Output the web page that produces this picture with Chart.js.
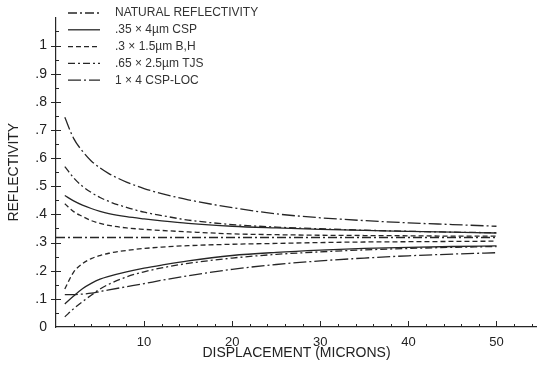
<!DOCTYPE html>
<html><head><meta charset="utf-8">
<script src="https://cdn.jsdelivr.net/npm/chart.js@4/dist/chart.umd.min.js"></script>
<style>html,body{margin:0;padding:0;background:#fff}canvas{display:block}</style>
</head><body>
<canvas id="c" width="537" height="368"></canvas>
<script>
const xs = [1,2,3,4,5,6,8,10,12,15,20,25,30,35,40,45,50];
const natX = [0,50];
const natY = [0.318,0.318];
const cspUpper = [0.467,0.448,0.433,0.421,0.411,0.403,0.392,0.384,0.377,0.368,0.358,0.352,0.347,0.343,0.340,0.337,0.334];
const cspLower = [0.082,0.110,0.136,0.155,0.170,0.180,0.196,0.209,0.220,0.235,0.254,0.265,0.273,0.279,0.283,0.286,0.288];
const bhUpper  = [0.438,0.410,0.393,0.378,0.368,0.361,0.352,0.347,0.343,0.338,0.331,0.328,0.326,0.325,0.324,0.323,0.323];
const bhLower  = [0.135,0.195,0.225,0.243,0.254,0.262,0.272,0.279,0.284,0.289,0.294,0.297,0.300,0.302,0.303,0.304,0.305];
const tjsUpper = [0.570,0.530,0.500,0.478,0.460,0.446,0.425,0.408,0.396,0.380,0.364,0.355,0.349,0.344,0.340,0.337,0.335];
const tjsLower = [0.036,0.065,0.090,0.113,0.135,0.152,0.178,0.196,0.210,0.226,0.245,0.258,0.267,0.274,0.279,0.283,0.286];
const locUpper = [0.745,0.670,0.625,0.590,0.565,0.545,0.515,0.492,0.474,0.452,0.424,0.402,0.388,0.378,0.370,0.364,0.358];
const locLower = [0.115,0.115,0.117,0.120,0.126,0.132,0.143,0.154,0.166,0.182,0.205,0.222,0.235,0.245,0.253,0.259,0.264];
const seriesNames = ["NATURAL REFLECTIVITY", ".35 \u00d7 4\u00b5m CSP", ".3 \u00d7 1.5\u00b5m B,H", ".65 \u00d7 2.5\u00b5m TJS", "1 \u00d7 4 CSP-LOC"];
const yTickValues = [0,0.1,0.2,0.3,0.4,0.5,0.6,0.7,0.8,0.9,1];
const yTickLabels = ["0",".1",".2",".3",".4",".5",".6",".7",".8",".9","1"];
const xTickValues = [10,20,30,40,50];
const xTickLabels = ["10","20","30","40","50"];

const INK = '#262626';
const FONT = "'Liberation Sans', Arial, Helvetica, sans-serif";
const dashes = [[9,3,2,3],[],[5,3],[7,3,2,3],[13,3,2,3]];

function pts(xa, ya){ return xa.map((x,i)=>({x:x,y:ya[i]})); }
function ds(label, xa, ya, dashIdx, legend){
  return {label:label, data:pts(xa,ya), borderColor:INK, borderWidth:1.3,
    borderDash:dashes[dashIdx], pointRadius:0, fill:false, tension:0.4,
    cubicInterpolationMode:'monotone', showInLegend:legend};
}
const datasets = [
  ds(seriesNames[0], natX, natY, 0, true),
  ds(seriesNames[1], xs, cspUpper, 1, true),
  ds(seriesNames[1], xs, cspLower, 1, false),
  ds(seriesNames[2], xs, bhUpper, 2, true),
  ds(seriesNames[2], xs, bhLower, 2, false),
  ds(seriesNames[3], xs, tjsUpper, 3, true),
  ds(seriesNames[3], xs, tjsLower, 3, false),
  ds(seriesNames[4], xs, locUpper, 4, true),
  ds(seriesNames[4], xs, locLower, 4, false)
];

const customLegend = {
  id:'customLegend',
  afterDraw(chart){
    const ctx = chart.ctx;
    ctx.save();
    ctx.font = "12px " + FONT;
    ctx.fillStyle = '#333';
    ctx.textBaseline = 'middle';
    let row = 0;
    chart.data.datasets.forEach(d=>{
      if(!d.showInLegend) return;
      const y = 13 + row*16.8;
      ctx.strokeStyle = INK; ctx.lineWidth = 1.3;
      ctx.setLineDash(d.borderDash);
      ctx.beginPath(); ctx.moveTo(68,y); ctx.lineTo(100,y); ctx.stroke();
      ctx.setLineDash([]);
      ctx.fillText(d.label, 115, y);
      row++;
    });
    ctx.restore();
  }
};

const tickMarks = {
  id:'tickMarks',
  afterDraw(chart){
    const ctx = chart.ctx, xs_ = chart.scales.x, ys_ = chart.scales.y;
    ctx.save();
    ctx.strokeStyle = INK; ctx.lineWidth = 1;
    const x0 = xs_.left, y0 = ys_.bottom;
    for(let v=2; v<=54; v+=2){
      const px = Math.round(xs_.getPixelForValue(v))+0.5;
      const len = (v%10===0)?6:3;
      ctx.beginPath(); ctx.moveTo(px,y0); ctx.lineTo(px,y0-len); ctx.stroke();
    }
    for(let k=1; k<=21; k++){
      const v = k*0.05;
      const py = Math.round(ys_.getPixelForValue(v))+0.5;
      const major = (k%2===0);
      ctx.beginPath();
      ctx.moveTo(x0-(major?5:0),py); ctx.lineTo(x0+(major?5:3),py); ctx.stroke();
    }
    ctx.restore();
  }
};

new Chart(document.getElementById('c'), {
  type:'line',
  data:{datasets:datasets},
  options:{
    responsive:false, animation:false, devicePixelRatio:1,
    layout:{padding:{top:6,right:0,left:0,bottom:0}},
    plugins:{legend:{display:false}, tooltip:{enabled:false}},
    scales:{
      x:{type:'linear', min:0, max:54.6,
        grid:{display:false, drawTicks:false},
        border:{display:true, color:INK, width:1.2},
        afterBuildTicks:(s)=>{ s.ticks = xTickValues.map(v=>({value:v})); },
        ticks:{autoSkip:false, color:'#222', padding:8,
          font:{family:FONT, size:13},
          callback:(v)=>{ const i = xTickValues.indexOf(v); return i>=0 ? xTickLabels[i] : ''; }},
        title:{display:true, text:'DISPLACEMENT (MICRONS)', color:'#222',
          font:{family:FONT, size:14}, padding:{top:0,bottom:6}},
        afterFit:(s)=>{ s.height = 41; }
      },
      y:{type:'linear', min:0, max:1.1,
        grid:{display:false, drawTicks:false},
        border:{display:true, color:INK, width:1.2},
        afterBuildTicks:(s)=>{ s.ticks = yTickValues.map(v=>({value:v})); },
        ticks:{autoSkip:false, color:'#222', padding:9,
          font:{family:FONT, size:14},
          callback:(v)=>{ const i = Math.round(v*10); return (i>=0 && i<yTickLabels.length) ? yTickLabels[i] : ''; }},
        title:{display:true, text:'REFLECTIVITY', color:'#222',
          font:{family:FONT, size:14}, padding:{top:6,bottom:0}},
        afterFit:(s)=>{ s.width = 56; }
      }
    }
  },
  plugins:[customLegend, tickMarks]
});
</script>
</body></html>
